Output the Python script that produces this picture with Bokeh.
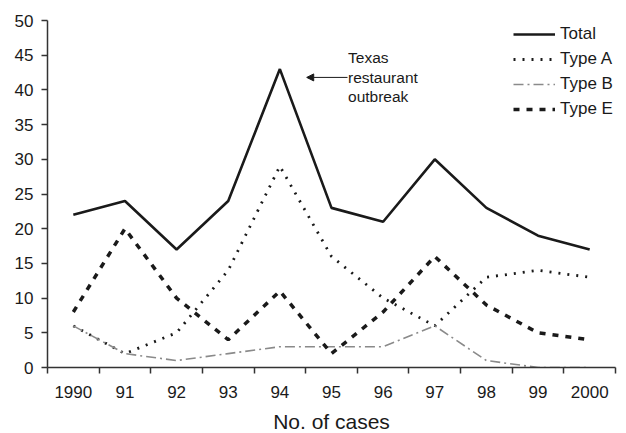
from bokeh.plotting import figure
from bokeh.models import FixedTicker, Legend, LegendItem, Label, Arrow, NormalHead, Range1d
from bokeh.embed import file_html
from bokeh.resources import INLINE

years = ["1990", "91", "92", "93", "94", "95", "96", "97", "98", "99", "2000"]
total = [22, 24, 17, 24, 43, 23, 21, 30, 23, 19, 17]
type_a = [6, 2, 5, 14, 29, 16, 10, 6, 13, 14, 13]
type_b = [6, 2, 1, 2, 3, 3, 3, 6, 1, 0, 0]
type_e = [8, 20, 10, 4, 11, 2, 8, 16, 9, 5, 4]

xs = list(range(len(years)))
FONT = "Liberation Sans"
INK = "#1a1a1a"

p = figure(frame_width=568, frame_height=347, output_backend="svg", toolbar_location=None,
           x_range=Range1d(-0.5, len(years) - 0.5), y_range=Range1d(0, 50),
           min_border_left=47, min_border_right=10, min_border_top=20, min_border_bottom=64)
p.outline_line_color = None
p.xgrid.visible = False
p.ygrid.visible = False

r_total = p.line(xs, total, line_color=INK, line_width=2.6)
r_a = p.line(xs, type_a, line_color=INK, line_width=2.8, line_dash="2 7")
r_b = p.line(xs, type_b, line_color="#8a8a8a", line_width=1.6, line_dash="10 4 2 4")
r_e = p.line(xs, type_e, line_color=INK, line_width=3.5, line_dash="6 7")

# x axis: labels at category centres, ticks at category boundaries
xa = p.xaxis[0]
xa.ticker = FixedTicker(ticks=xs, minor_ticks=[i - 0.5 for i in range(len(years) + 1)])
xa.major_label_overrides = {i: y for i, y in enumerate(years)}
xa.major_tick_out = 0
xa.major_tick_in = 0
xa.minor_tick_out = 6
xa.minor_tick_in = 0
xa.major_label_standoff = 12
xa.axis_label = "No. of cases"
xa.axis_label_text_font = FONT
xa.axis_label_text_font_size = "21px"
xa.axis_label_text_font_style = "normal"
xa.axis_label_text_color = INK
xa.axis_label_standoff = 9

ya = p.yaxis[0]
ya.ticker = FixedTicker(ticks=list(range(0, 51, 5)))
ya.minor_tick_out = 0
ya.minor_tick_in = 0
ya.major_tick_out = 6
ya.major_tick_in = 0
ya.major_label_standoff = 8

for ax in (xa, ya):
    ax.axis_line_color = "#333333"
    ax.axis_line_width = 1.5
    ax.major_tick_line_color = "#333333"
    ax.minor_tick_line_color = "#333333"
    ax.major_tick_line_width = 1.5
    ax.minor_tick_line_width = 1.5
    ax.major_label_text_font = FONT
    ax.major_label_text_font_size = "17px"
    ax.major_label_text_color = INK

legend = Legend(items=[
    LegendItem(label="Total", renderers=[r_total]),
    LegendItem(label="Type A", renderers=[r_a]),
    LegendItem(label="Type B", renderers=[r_b]),
    LegendItem(label="Type E", renderers=[r_e]),
], location=(466, 248))
legend.border_line_color = None
legend.background_fill_alpha = 0
legend.glyph_width = 42
legend.glyph_height = 20
legend.label_height = 20
legend.spacing = 5
legend.padding = 0
legend.margin = 0
legend.label_standoff = 5
legend.label_text_font = FONT
legend.label_text_font_size = "17px"
legend.label_text_color = INK
p.add_layout(legend)

for txt, yv in (("Texas", 44.7), ("restaurant", 41.8), ("outbreak", 39.0)):
    p.add_layout(Label(x=5.32, y=yv, text=txt, text_font=FONT, text_font_size="15.5px",
                       text_color=INK, text_baseline="middle", text_align="left"))

p.add_layout(Arrow(end=NormalHead(size=7, fill_color=INK, line_color=INK),
                   x_start=5.31, y_start=41.8, x_end=4.52, y_end=41.8,
                   line_color=INK, line_width=1))

open("out.html", "w").write(file_html(p, INLINE))
